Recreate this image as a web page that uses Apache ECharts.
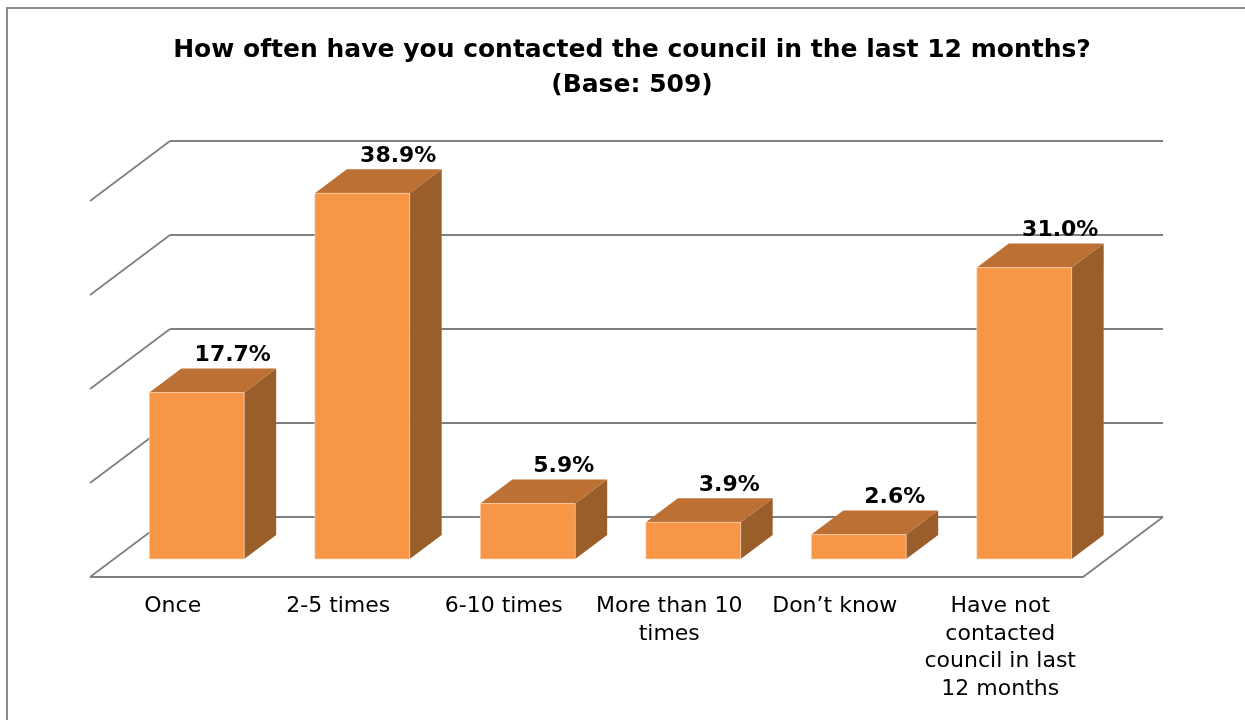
<!DOCTYPE html>
<html>
<head>
<meta charset="utf-8">
<script src="https://cdn.jsdelivr.net/npm/echarts@6/dist/echarts.min.js"></script>
<style>
  html, body { margin: 0; padding: 0; background: #ffffff; }
  #chart { width: 1245px; height: 720px; }
</style>
</head>
<body>
<div id="chart"></div>
<script>
// Survey answers and their shares (%)
const categories = [
  'Once',
  '2-5 times',
  '6-10 times',
  'More than 10\ntimes',
  'Don\u2019t know',
  'Have not\ncontacted\ncouncil in last\n12 months'
];
const percentages = [17.7, 38.9, 5.9, 3.9, 2.6, 31.0];
const axisMax = 40;
const axisStep = 10;

const titleLines = ['How often have you contacted the council in the last 12 months?', '(Base: 509)'];

// Perspective: full depth of the floor shifts points this much
const DEPTH_X = -80;
const DEPTH_Y = 60;
// Bar depth position (0 = back wall, 1 = front edge)
const BAR_BACK = 0.3;
const BAR_FRONT = 0.7;
const BAR_WIDTH_RATIO = 0.573;

const COLORS = {
  front: '#F79646',
  top: '#BD7034',
  side: '#9A5E2B',
  grid: '#808080'
};

const FONT = 'DejaVu Sans';

const ticks = [];
for (let v = 0; v <= axisMax; v += axisStep) ticks.push(v);

const chart = echarts.init(document.getElementById('chart'), null, { renderer: 'canvas' });

function wallItem(params, api) {
  const cs = params.coordSys;
  const y = api.coord([0, api.value(1)])[1];
  const x0 = cs.x;
  const x1 = cs.x + cs.width;
  const style = { stroke: COLORS.grid, lineWidth: 1.8, fill: null };
  const children = [{
    type: 'line',
    shape: { x1: x0, y1: y, x2: x0 + DEPTH_X, y2: y + DEPTH_Y },
    style: style
  }];
  if (api.value(1) === 0) {
    children.push({
      type: 'polyline',
      shape: { points: [[x0 + DEPTH_X, y + DEPTH_Y], [x1 + DEPTH_X, y + DEPTH_Y], [x1, y]] },
      style: style
    });
  }
  return { type: 'group', children: children };
}

function barItem(params, api) {
  const i = api.value(0);
  const v = api.value(1);
  const top = api.coord([i, v]);
  const base = api.coord([i, 0]);
  const band = api.size([1, 0])[0];
  const w = band * BAR_WIDTH_RATIO;
  const cx = top[0];
  const fx = DEPTH_X * BAR_FRONT, fy = DEPTH_Y * BAR_FRONT;
  const bx = DEPTH_X * BAR_BACK, by = DEPTH_Y * BAR_BACK;

  const fl = cx - w / 2 + fx, fr = cx + w / 2 + fx;
  const bl = cx - w / 2 + bx, br = cx + w / 2 + bx;
  const fTop = top[1] + fy, fBot = base[1] + fy;
  const bTop = top[1] + by, bBot = base[1] + by;

  return {
    type: 'group',
    children: [
      {
        type: 'polygon',
        shape: { points: [[fr, fTop], [br, bTop], [br, bBot], [fr, fBot]] },
        style: { fill: COLORS.side }
      },
      {
        type: 'polygon',
        shape: { points: [[fl, fTop], [fr, fTop], [br, bTop], [bl, bTop]] },
        style: { fill: COLORS.top }
      },
      {
        type: 'rect',
        shape: { x: fl, y: fTop, width: fr - fl, height: fBot - fTop },
        style: { fill: COLORS.front, stroke: 'rgba(255,220,190,0.6)', lineWidth: 1 }
      },
      {
        type: 'text',
        x: (bl + br) / 2 + 4,
        y: bTop - 2,
        style: {
          text: v.toFixed(1) + '%',
          fill: '#000000',
          font: 'bold 22px "' + FONT + '"',
          align: 'center',
          verticalAlign: 'bottom'
        }
      }
    ]
  };
}

chart.setOption({
  animation: false,
  backgroundColor: '#ffffff',
  title: {
    text: titleLines.join('\n'),
    left: 627,
    textAlign: 'center',
    top: 28,
    textStyle: {
      fontFamily: FONT,
      fontWeight: 'bold',
      fontSize: 25,
      lineHeight: 35,
      color: '#000000'
    }
  },
  graphic: [{
    type: 'rect',
    shape: { x: 7, y: 8, width: 1260, height: 730 },
    style: { fill: null, stroke: '#8c8c8c', lineWidth: 2 },
    silent: true
  }],
  grid: [
    // back wall of the 3D box
    { left: 170, top: 141, width: 993, height: 376 },
    // front edge of the floor, carries the category labels
    { left: 90, top: 300, width: 993, height: 277 }
  ],
  xAxis: [
    {
      type: 'category', gridIndex: 0, data: categories,
      axisLine: { show: false }, axisTick: { show: false }, axisLabel: { show: false }
    },
    {
      type: 'category', gridIndex: 1, data: categories,
      axisLine: { show: false }, axisTick: { show: false },
      axisLabel: {
        show: true, interval: 0, margin: 16,
        fontFamily: FONT, fontSize: 22, lineHeight: 27.5, color: '#000000',
        align: 'center'
      }
    }
  ],
  yAxis: [
    {
      type: 'value', gridIndex: 0, min: 0, max: axisMax, interval: axisStep,
      axisLine: { show: false }, axisTick: { show: false }, axisLabel: { show: false },
      splitLine: { show: true, lineStyle: { color: COLORS.grid, width: 1.8 } }
    },
    {
      type: 'value', gridIndex: 1, min: 0, max: axisMax, show: false,
      splitLine: { show: false }
    }
  ],
  series: [
    {
      type: 'custom',
      xAxisIndex: 0, yAxisIndex: 0,
      z: 1,
      silent: true,
      renderItem: wallItem,
      data: ticks.map(t => [0, t])
    },
    {
      type: 'custom',
      xAxisIndex: 0, yAxisIndex: 0,
      z: 5,
      silent: true,
      renderItem: barItem,
      data: percentages.map((p, i) => [i, p])
    }
  ]
});
</script>
</body>
</html>
